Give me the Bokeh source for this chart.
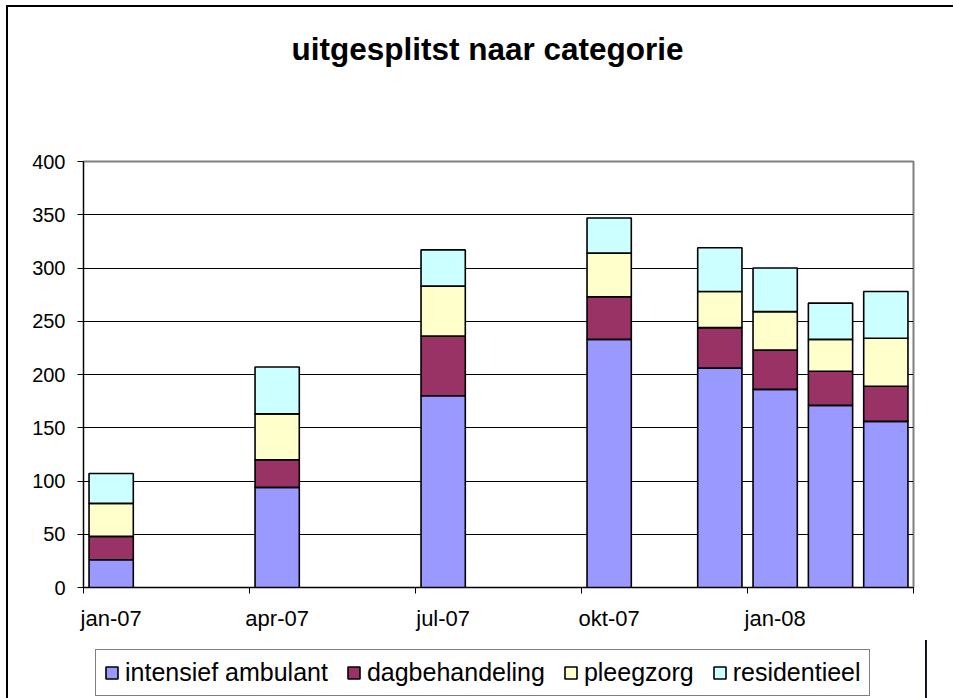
from bokeh.plotting import figure
from bokeh.layouts import column
from bokeh.models import Range1d, FixedTicker, Legend, LegendItem, ColumnDataSource, Title
from bokeh.embed import file_html
from bokeh.resources import INLINE

# ---- data ----
periods = ["2007-01", "2007-04", "2007-07", "2007-10", "2007-12", "2008-01", "2008-02", "2008-03"]
series = ["intensief ambulant", "dagbehandeling", "pleegzorg", "residentieel"]
intensief_ambulant = [26, 94, 180, 233, 206, 186, 171, 156]
dagbehandeling = [22, 26, 56, 40, 38, 37, 32, 33]
pleegzorg = [31, 43, 47, 41, 34, 36, 30, 45]
residentieel = [28, 44, 34, 33, 41, 41, 34, 44]
colors = ["#9999FF", "#993366", "#FFFFCC", "#CCFFFF"]
tick_months = ["2007-01", "2007-04", "2007-07", "2007-10", "2008-01", "2008-04"]
tick_labels = ["jan-07", "apr-07", "jul-07", "okt-07", "jan-08", ""]
y_ticks = [0, 50, 100, 150, 200, 250, 300, 350, 400]
title_text = "uitgesplitst naar categorie"

FONT = "Liberation Sans"


def month_index(s):
    y, m = s.split("-")
    return (int(y) - 2007) * 12 + int(m) - 1


x_pos = [month_index(p_) + 0.5 for p_ in periods]
source = ColumnDataSource(data={
    "x": x_pos,
    series[0]: intensief_ambulant,
    series[1]: dagbehandeling,
    series[2]: pleegzorg,
    series[3]: residentieel,
})

tick_idx = [month_index(t) for t in tick_months]

W = 932
p = figure(width=W, height=633, output_backend="svg", toolbar_location=None,
           x_range=Range1d(0, tick_idx[-1]), y_range=Range1d(0, 400),
           min_border_left=75, min_border_right=27, min_border_top=154, min_border_bottom=53)
p.title_location = None

# spacer between frame and title, then the title itself
p.add_layout(Title(text="\u00a0", text_font_size="1px", standoff=92), "above")
p.add_layout(Title(text=title_text, align="left", offset=208, standoff=0,
                   text_font=FONT, text_font_size="31.5px", text_font_style="bold",
                   text_color="black"), "above")

renderers = p.vbar_stack(series, x="x", width=0.8, color=colors, line_color="black",
                         line_width=1.6, source=source)

# axes
p.outline_line_color = "#808080"
p.outline_line_width = 2
p.xgrid.grid_line_color = None
p.ygrid.ticker = FixedTicker(ticks=y_ticks[1:-1])
p.ygrid.grid_line_color = "black"
p.ygrid.grid_line_width = 1

p.yaxis.ticker = FixedTicker(ticks=y_ticks)
p.yaxis.major_tick_out = 6
p.yaxis.major_tick_in = 0
p.yaxis.minor_tick_line_color = None
p.yaxis.major_label_standoff = 12
p.yaxis.major_label_text_font = FONT
p.yaxis.major_label_text_font_size = "20px"
p.yaxis.major_label_text_color = "black"
p.yaxis.axis_line_color = "black"
p.yaxis.major_tick_line_color = "black"

label_pos = [i + 0.5 for i in tick_idx[:-1]]
p.xaxis.ticker = FixedTicker(ticks=label_pos, minor_ticks=tick_idx)
p.xaxis.major_label_overrides = {lp_: lab for lp_, lab in zip(label_pos, tick_labels)}
p.xaxis.major_tick_line_color = None
p.xaxis.major_tick_out = 0
p.xaxis.major_tick_in = 0
p.xaxis.minor_tick_line_color = "black"
p.xaxis.minor_tick_out = 6
p.xaxis.minor_tick_in = 0
p.xaxis.major_label_standoff = 12
p.xaxis.major_label_text_font = FONT
p.xaxis.major_label_text_font_size = "22px"
p.xaxis.major_label_text_color = "black"
p.xaxis.axis_line_color = "black"

# ---- legend strip (separate small figure below the chart) ----
# the same stacked bars are drawn here outside the visible x range, only to feed the legend
lp = figure(width=945, height=58, output_backend="svg", toolbar_location=None,
            x_range=Range1d(-2, -1), y_range=Range1d(0, 1),
            x_axis_location=None, y_axis_location=None,
            min_border_left=0, min_border_right=0, min_border_top=0, min_border_bottom=0)
lp.grid.visible = False
lp.outline_line_color = None
legend_renderers = lp.vbar_stack(series, x="x", width=0.8, color=colors, line_color="black",
                                 line_width=1.6, source=source)
legend = Legend(items=[LegendItem(label=s, renderers=[r]) for s, r in zip(series, legend_renderers)],
                orientation="horizontal", location=(12, 2), margin=0,
                padding=8, spacing=18, glyph_width=15, glyph_height=15, label_standoff=6,
                label_height=28,
                label_text_font=FONT, label_text_font_size="25px", label_text_color="black",
                border_line_color="black", border_line_width=1,
                background_fill_color="white", background_fill_alpha=1)
lp.add_layout(legend, "center")

layout = column(p, lp, spacing=0)
layout.styles = {"border-left": "2px solid black", "border-top": "2px solid black",
                 "margin-left": "6px", "margin-top": "5px"}

open("out.html", "w").write(file_html(layout, INLINE))
